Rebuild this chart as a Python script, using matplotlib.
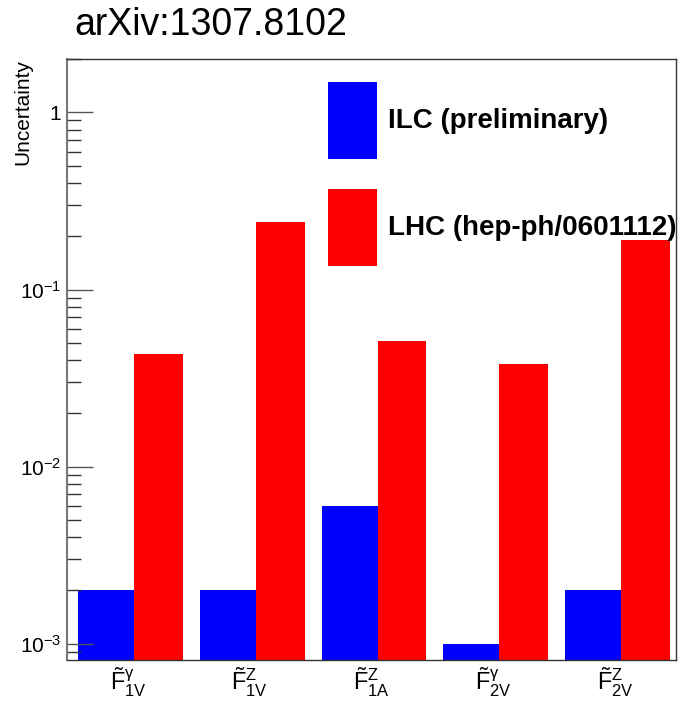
import numpy as np
import matplotlib
matplotlib.use('Agg')
import matplotlib.pyplot as plt
from matplotlib.ticker import LogLocator, NullFormatter, FixedLocator

# 폰트 설정
plt.rcParams['font.family'] = ['Liberation Sans', 'DejaVu Sans']
plt.rcParams['mathtext.fontset'] = 'custom'
plt.rcParams['mathtext.rm'] = 'Liberation Sans'
plt.rcParams['mathtext.it'] = 'Liberation Sans'
plt.rcParams['mathtext.bf'] = 'Liberation Sans:bold'

# 데이터
couplings = [r'$\tilde{\mathrm{F}}^{\gamma}_{1V}$', r'$\tilde{\mathrm{F}}^{Z}_{1V}$',
             r'$\tilde{\mathrm{F}}^{Z}_{1A}$', r'$\tilde{\mathrm{F}}^{\gamma}_{2V}$',
             r'$\tilde{\mathrm{F}}^{Z}_{2V}$']
ilc = [0.002, 0.002, 0.006, 0.001, 0.002]
lhc = [0.043, 0.24, 0.051, 0.038, 0.19]
labels = ['ILC (preliminary)', 'LHC (hep-ph/0601112)']

fig = plt.figure(figsize=(6.79, 7.03), dpi=100)
ax = fig.add_axes([0.0987, 0.0612, 0.8969, 0.8548])

x = np.arange(len(couplings))
ax.bar(x + 0.09, ilc, width=0.46, align='edge', color='#0000ff', label=labels[0])
ax.bar(x + 0.55, lhc, width=0.40, align='edge', color='#ff0000', label=labels[1])

ax.set_yscale('log')
ax.set_ylim(8.1e-4, 2.0)
ax.set_xlim(0, len(couplings))

# y축 눈금
ax.yaxis.set_major_locator(FixedLocator([1e-3, 1e-2, 1e-1, 1]))
ax.set_yticklabels([r'$10^{-3}$', r'$10^{-2}$', r'$10^{-1}$', '1'])
ax.yaxis.set_minor_locator(LogLocator(base=10, subs=np.arange(2, 10)))
ax.yaxis.set_minor_formatter(NullFormatter())
ax.tick_params(axis='y', which='major', direction='in', length=19, width=1,
               color='#555555', labelsize=15, pad=4)
ax.tick_params(axis='y', which='minor', direction='in', length=10, width=1,
               color='#333333')

# x축 라벨
ax.set_xticks(x + 0.5)
ax.set_xticklabels(couplings, fontsize=17)
ax.tick_params(axis='x', length=0, pad=4)

for s in ax.spines.values():
    s.set_color('#333333')
    s.set_linewidth(1)
ax.spines['left'].set_color('#777777')
ax.spines['left'].set_linewidth(1.5)

# y축 이름 (위쪽 정렬)
fig.text(0.034, 1 - 59 / 703, 'Uncertainty', fontsize=15, rotation=90,
         ha='center', va='top')

fig.text(0.11, 1 - 25 / 703, 'arXiv:1307.8102', fontsize=27, va='center', ha='left')

# 범례
ax.legend(loc='upper left', bbox_to_anchor=(0.4286, 0.9617), frameon=False,
          prop={'weight': 'bold', 'size': 20}, borderpad=0, borderaxespad=0,
          handlelength=1.75, handleheight=3.88, labelspacing=1.08,
          handletextpad=0.4)

fig.savefig('out.png', dpi=100)
